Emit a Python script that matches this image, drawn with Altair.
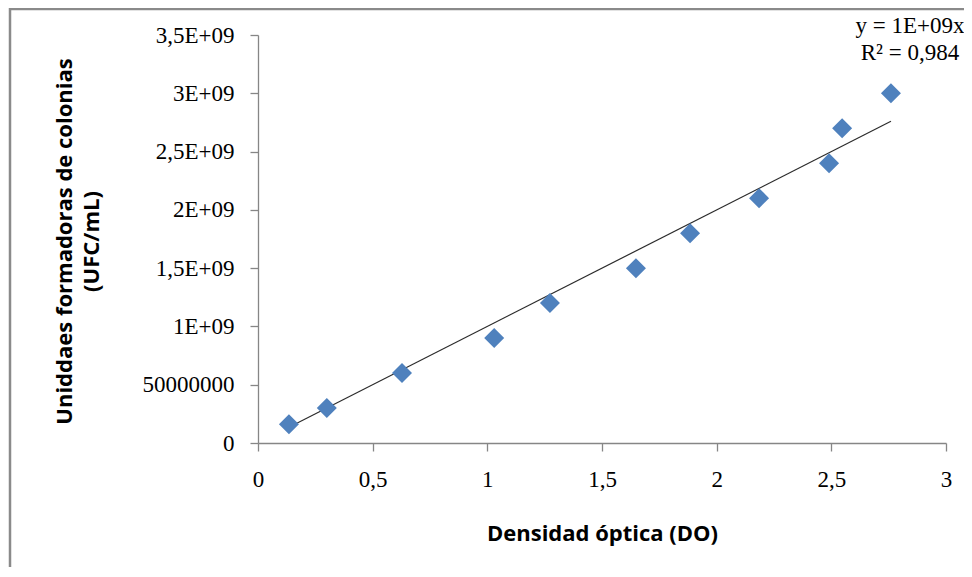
import altair as alt
import pandas as pd
import numpy as np

# Data
do_vals = [0.135, 0.30, 0.628, 1.03, 1.273, 1.648, 1.884, 2.185, 2.49, 2.547, 2.76]
ufc_vals = [1.6e8, 3.0e8, 6.0e8, 9.0e8, 1.2e9, 1.5e9, 1.8e9, 2.1e9, 2.4e9, 2.7e9, 3.0e9]

y_tick_values = [0, 5e8, 1e9, 1.5e9, 2e9, 2.5e9, 3e9, 3.5e9]
y_tick_labels = ["0", "50000000", "1E+09", "1,5E+09", "2E+09", "2,5E+09", "3E+09", "3,5E+09"]
x_tick_values = [0, 0.5, 1, 1.5, 2, 2.5, 3]
x_tick_labels = ["0", "0,5", "1", "1,5", "2", "2,5", "3"]

eq_lines = ["y = 1E+09x", "R² = 0,984"]

pts = pd.DataFrame({"x": do_vals, "y": ufc_vals})

# linear trend through the origin (least squares)
xa = np.array(do_vals)
ya = np.array(ufc_vals)
slope = float((xa * ya).sum() / (xa * xa).sum())
trend = pd.DataFrame({"x": [xa.min(), xa.max()], "y": [slope * xa.min(), slope * xa.max()]})

AX = "#868686"


def label_expr(vals, labs):
    return "[" + ",".join(f"'{l}'" for l in labs) + "][indexof([" + \
        ",".join(repr(float(v)) for v in vals) + "], datum.value)]"


xscale = alt.Scale(domain=[0, 3], nice=False, zero=True)
yscale = alt.Scale(domain=[0, 3.5e9], nice=False)

xaxis = alt.Axis(
    values=x_tick_values, labelExpr=label_expr(x_tick_values, x_tick_labels),
    labelFlush=False, labelOverlap=False,
    grid=False, domainColor=AX, tickColor=AX, tickSize=8, domainWidth=1.3, tickWidth=1.3,
    labelFont="Liberation Serif", labelFontSize=23, labelColor="#000", labelPadding=17,
    title="Densidad óptica (DO)", titleFont="Open Sans", titleFontWeight="bold",
    titleFontSize=22, titleColor="#000", titlePadding=32,
)
yaxis = alt.Axis(
    values=y_tick_values, labelExpr=label_expr(y_tick_values, y_tick_labels),
    labelFlush=False, labelOverlap=False,
    grid=False, domainColor=AX, tickColor=AX, tickSize=8, domainWidth=1.3, tickWidth=1.3,
    labelFont="Liberation Serif", labelFontSize=23, labelColor="#000", labelPadding=16,
    title=["Uniddaes formadoras de colonias", "(UFC/mL)"], titleFont="Open Sans",
    titleFontWeight="bold", titleFontSize=22, titleColor="#000",
    titleX=-194, titleY=206, titleAngle=-90, titleBaseline="middle", titleAlign="center",
    titleLineHeight=27,
)

frame = alt.Chart(pd.DataFrame({"a": [0]})).mark_rect(
    fill=None, stroke="#8a8a8a", strokeWidth=2.5, clip=False
).encode(
    x=alt.value(-248), x2=alt.value(740), y=alt.value(-26), y2=alt.value(620)
)

line = alt.Chart(trend).mark_line(color="#2b2b2b", strokeWidth=1.2).encode(
    x=alt.X("x:Q", scale=xscale, axis=xaxis),
    y=alt.Y("y:Q", scale=yscale, axis=yaxis),
)

points = alt.Chart(pts).mark_point(
    shape="diamond", filled=True, color="#4F81BD", size=400, opacity=1
).encode(
    x=alt.X("x:Q", scale=xscale),
    y=alt.Y("y:Q", scale=yscale),
)

eq = alt.Chart(pd.DataFrame({"t": [eq_lines]})).mark_text(
    font="Liberation Serif", fontSize=23, color="#000", align="center",
    baseline="middle", lineHeight=27, clip=False
).encode(
    text="t:N", x=alt.value(652), y=alt.value(-9)
)

chart = alt.layer(frame, line, points, eq).properties(
    width=688, height=408,
    autosize=alt.AutoSizeParams(type="none"),
    padding={"left": 250, "top": 27, "right": 18, "bottom": 124},
).configure_view(stroke=None)

chart.save("out.html", embed_options={"renderer": "svg", "actions": False})
